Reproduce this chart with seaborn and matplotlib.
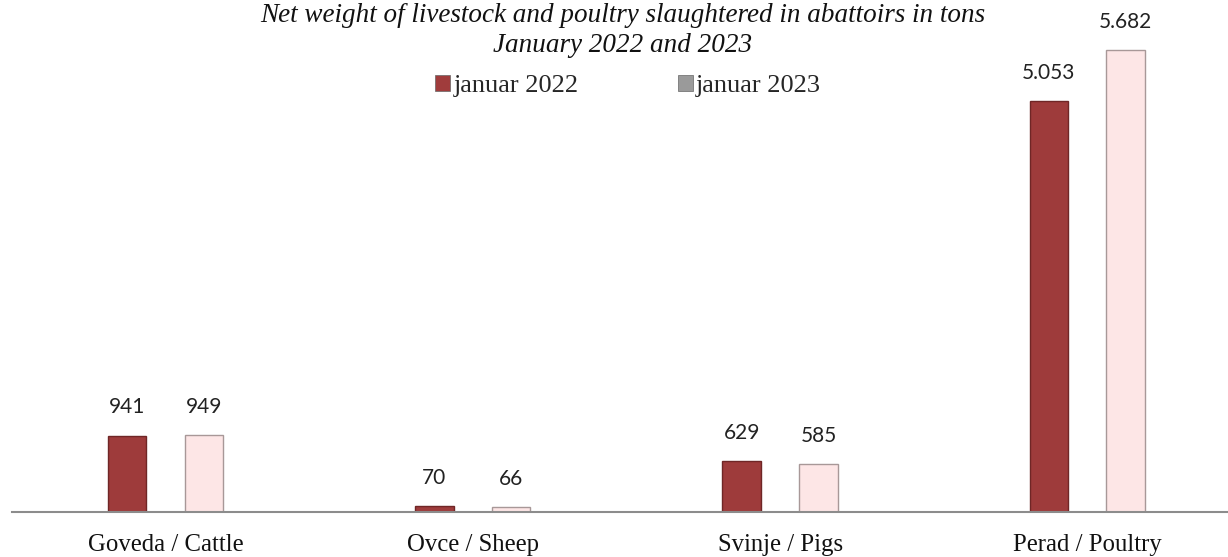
import matplotlib
matplotlib.use("Agg")
import matplotlib.pyplot as plt
import seaborn as sns
import pandas as pd
from matplotlib.patches import Patch

# ---- data ----
categories = ["Goveda / Cattle", "Ovce / Sheep", "Svinje / Pigs", "Perad / Poultry"]
series_names = ["januar 2022", "januar 2023"]
values_2022 = [941, 70, 629, 5053]
values_2023 = [949, 66, 585, 5682]
title_lines = ["Net weight of livestock and poultry slaughtered in abattoirs in tons",
               "January 2022 and 2023"]

df = pd.DataFrame({
    "category": categories * 2,
    "series": [series_names[0]] * len(categories) + [series_names[1]] * len(categories),
    "value": values_2022 + values_2023,
})

sns.set_theme(style="white")
plt.rcParams['font.family'] = ['Liberation Serif', 'DejaVu Serif']

face = {series_names[0]: "#9e3b3b", series_names[1]: "#fde6e6"}
edge = {series_names[0]: "#6f2626", series_names[1]: "#a89898"}
legend_face = {series_names[0]: "#a03c3c", series_names[1]: "#9a9a9a"}

W, H = 1228, 557
fig = plt.figure(figsize=(W / 100, H / 100), dpi=100)
ax = fig.add_axes([12 / W, 45 / H, (W - 12) / W, 512 / H])

sns.barplot(data=df, x="category", y="value", hue="series", order=categories,
            hue_order=series_names, palette=face, width=0.5, gap=0.5,
            legend=False, ax=ax, saturation=1)

for cont, name in zip(ax.containers, series_names):
    for p in cont:
        p.set_edgecolor(edge[name])
        p.set_linewidth(1.0)
    ax.bar_label(cont, labels=[f"{int(v):,}".replace(",", ".") for v in cont.datavalues],
                 padding=13, fontsize=15, family="Lato", color="#222222")

ax.set_xlim(-0.5, 3.458)
ax.set_ylim(0, 6300)
ax.set_xlabel("")
ax.set_ylabel("")
ax.set_yticks([])
for s in ["top", "right", "left"]:
    ax.spines[s].set_visible(False)
ax.spines["bottom"].set_color("#8c8c8c")
ax.spines["bottom"].set_linewidth(1.5)
ax.tick_params(axis="x", length=0, pad=16, labelsize=17.8, labelcolor="#111111")

fig.text(623 / W, 1 - 22 / H, title_lines[0], ha="center", va="baseline",
         fontsize=19.5, style="italic", color="#111111")
fig.text(623 / W, 1 - 52 / H, title_lines[1], ha="center", va="baseline",
         fontsize=19.5, style="italic", color="#111111")

handles = [Patch(facecolor=legend_face[n], edgecolor="#666666", linewidth=0.5, label=n)
           for n in series_names]
fig.legend(handles=handles, loc="center", bbox_to_anchor=(628 / W, 1 - 86 / H),
           ncol=2, frameon=False, fontsize=19, handlelength=0.57, handleheight=0.57,
           handletextpad=0.12, columnspacing=3.75)

fig.savefig("out.png", dpi=100)
